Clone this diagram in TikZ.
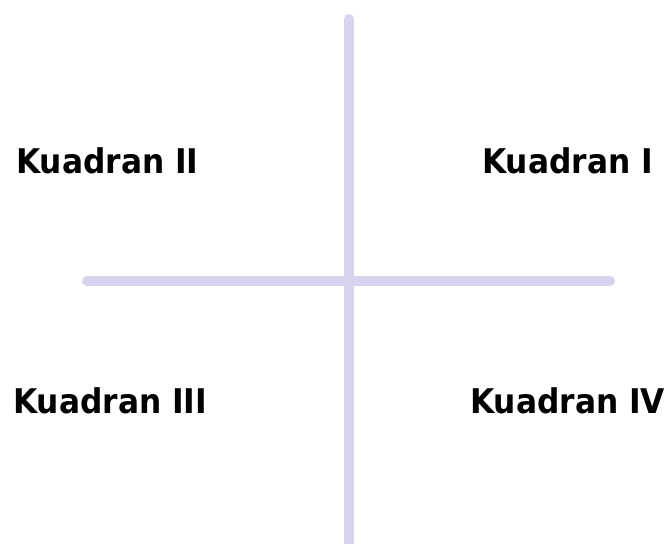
\documentclass[tikz,border=0pt]{standalone}
\usepackage{fontspec}
\setmainfont{DejaVu Sans}[FakeStretch=0.92]
\definecolor{axiscol}{RGB}{214,212,238}
\begin{document}
\begin{tikzpicture}[x=1pt,y=-1pt,
  axis/.style={draw=axiscol,line width=10pt,line cap=round},
  qlabel/.style={anchor=base west,inner sep=0pt,font=\fontsize{34}{40}\selectfont\bfseries}]
\useasboundingbox[fill=white] (0,0) rectangle (668,543);
\coordinate (top) at (349,19);
\coordinate (bottom) at (349,560);
\coordinate (left) at (87,281);
\coordinate (right) at (610,281);
\draw[axis] (top) -- (bottom);
\draw[axis] (left) -- (right);
\node[qlabel] (q2) at (16,173) {Kuadran II};
\node[qlabel] (q1) at (482,173) {Kuadran I};
\node[qlabel] (q3) at (13,413) {Kuadran III};
\node[qlabel] (q4) at (470,413) {Kuadran IV};
\end{tikzpicture}
\end{document}
